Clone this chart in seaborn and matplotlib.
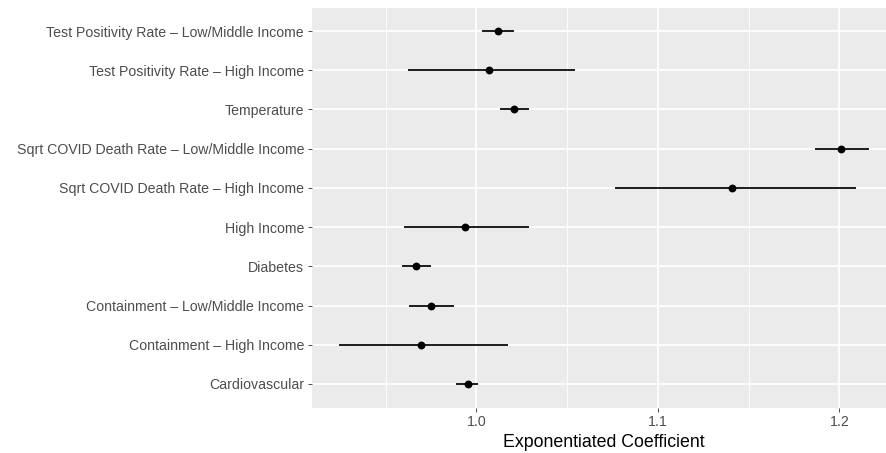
import matplotlib
matplotlib.use("Agg")
import matplotlib.pyplot as plt
from matplotlib.ticker import MultipleLocator
import pandas as pd
import seaborn as sns

# Model terms, bottom to top, with exponentiated estimates and 95% CIs
terms = [
    "Cardiovascular",
    "Containment – High Income",
    "Containment – Low/Middle Income",
    "Diabetes",
    "High Income",
    "Sqrt COVID Death Rate – High Income",
    "Sqrt COVID Death Rate – Low/Middle Income",
    "Temperature",
    "Test Positivity Rate – High Income",
    "Test Positivity Rate – Low/Middle Income",
]
estimate = [0.9953, 0.9697, 0.9753, 0.9668, 0.9938, 1.1410, 1.2010, 1.0208, 1.0072, 1.0118]
conf_low = [0.9891, 0.9241, 0.9629, 0.9590, 0.9600, 1.0767, 1.1864, 1.0132, 0.9625, 1.0031]
conf_high = [1.0012, 1.0177, 0.9878, 0.9748, 1.0289, 1.2091, 1.2161, 1.0289, 1.0542, 1.0206]

df = pd.DataFrame({"term": terms, "estimate": estimate,
                   "conf_low": conf_low, "conf_high": conf_high})

sns.set_theme(style="darkgrid", rc={
    "axes.facecolor": "#EBEBEB",
    "grid.color": "white",
    "axes.edgecolor": "#EBEBEB",
    "axes.linewidth": 0,
})
plt.rcParams["font.family"] = ["Liberation Sans", "DejaVu Sans"]

k = 1.16  # overall text/line scale
fig = plt.figure(figsize=(8.86, 4.53), dpi=100)
W, H = 886, 453
ax = fig.add_axes([312 / W, 45.5 / H, (895 - 312) / W, (445.5 - 45.5) / H])

ax.hlines(df["term"], df["conf_low"], df["conf_high"], color="black",
          linewidth=1.07 * k, zorder=3)
sns.scatterplot(data=df, x="estimate", y="term", color="black", s=32,
                edgecolor="black", linewidth=0, ax=ax, zorder=4)

# x range padded by 5% of the interval span on both sides
lo, hi = min(conf_low), max(conf_high)
pad = 0.05 * (hi - lo)
ax.set_xlim(lo - pad, hi + pad)
ax.set_ylim(-0.6, len(terms) - 0.4)

ax.xaxis.set_major_locator(MultipleLocator(0.1))
ax.xaxis.set_minor_locator(MultipleLocator(0.05))
ax.grid(which="major", color="white", linewidth=1.07 * k)
ax.grid(which="minor", axis="x", color="white", linewidth=0.53 * k)
ax.grid(which="minor", axis="y", visible=False)

ax.tick_params(axis="both", which="major", length=2.75 * k, width=0.53 * k,
               color="#333333", labelcolor="#4D4D4D", labelsize=8.8 * k,
               pad=2.2 * k, bottom=True, left=True)
ax.tick_params(axis="both", which="minor", length=0)
ax.set_xlabel("Exponentiated Coefficient", fontsize=11 * k, color="black",
              labelpad=2.75 * k)
ax.set_ylabel("")
for s in ax.spines.values():
    s.set_visible(False)

fig.savefig("out.png", dpi=100)
